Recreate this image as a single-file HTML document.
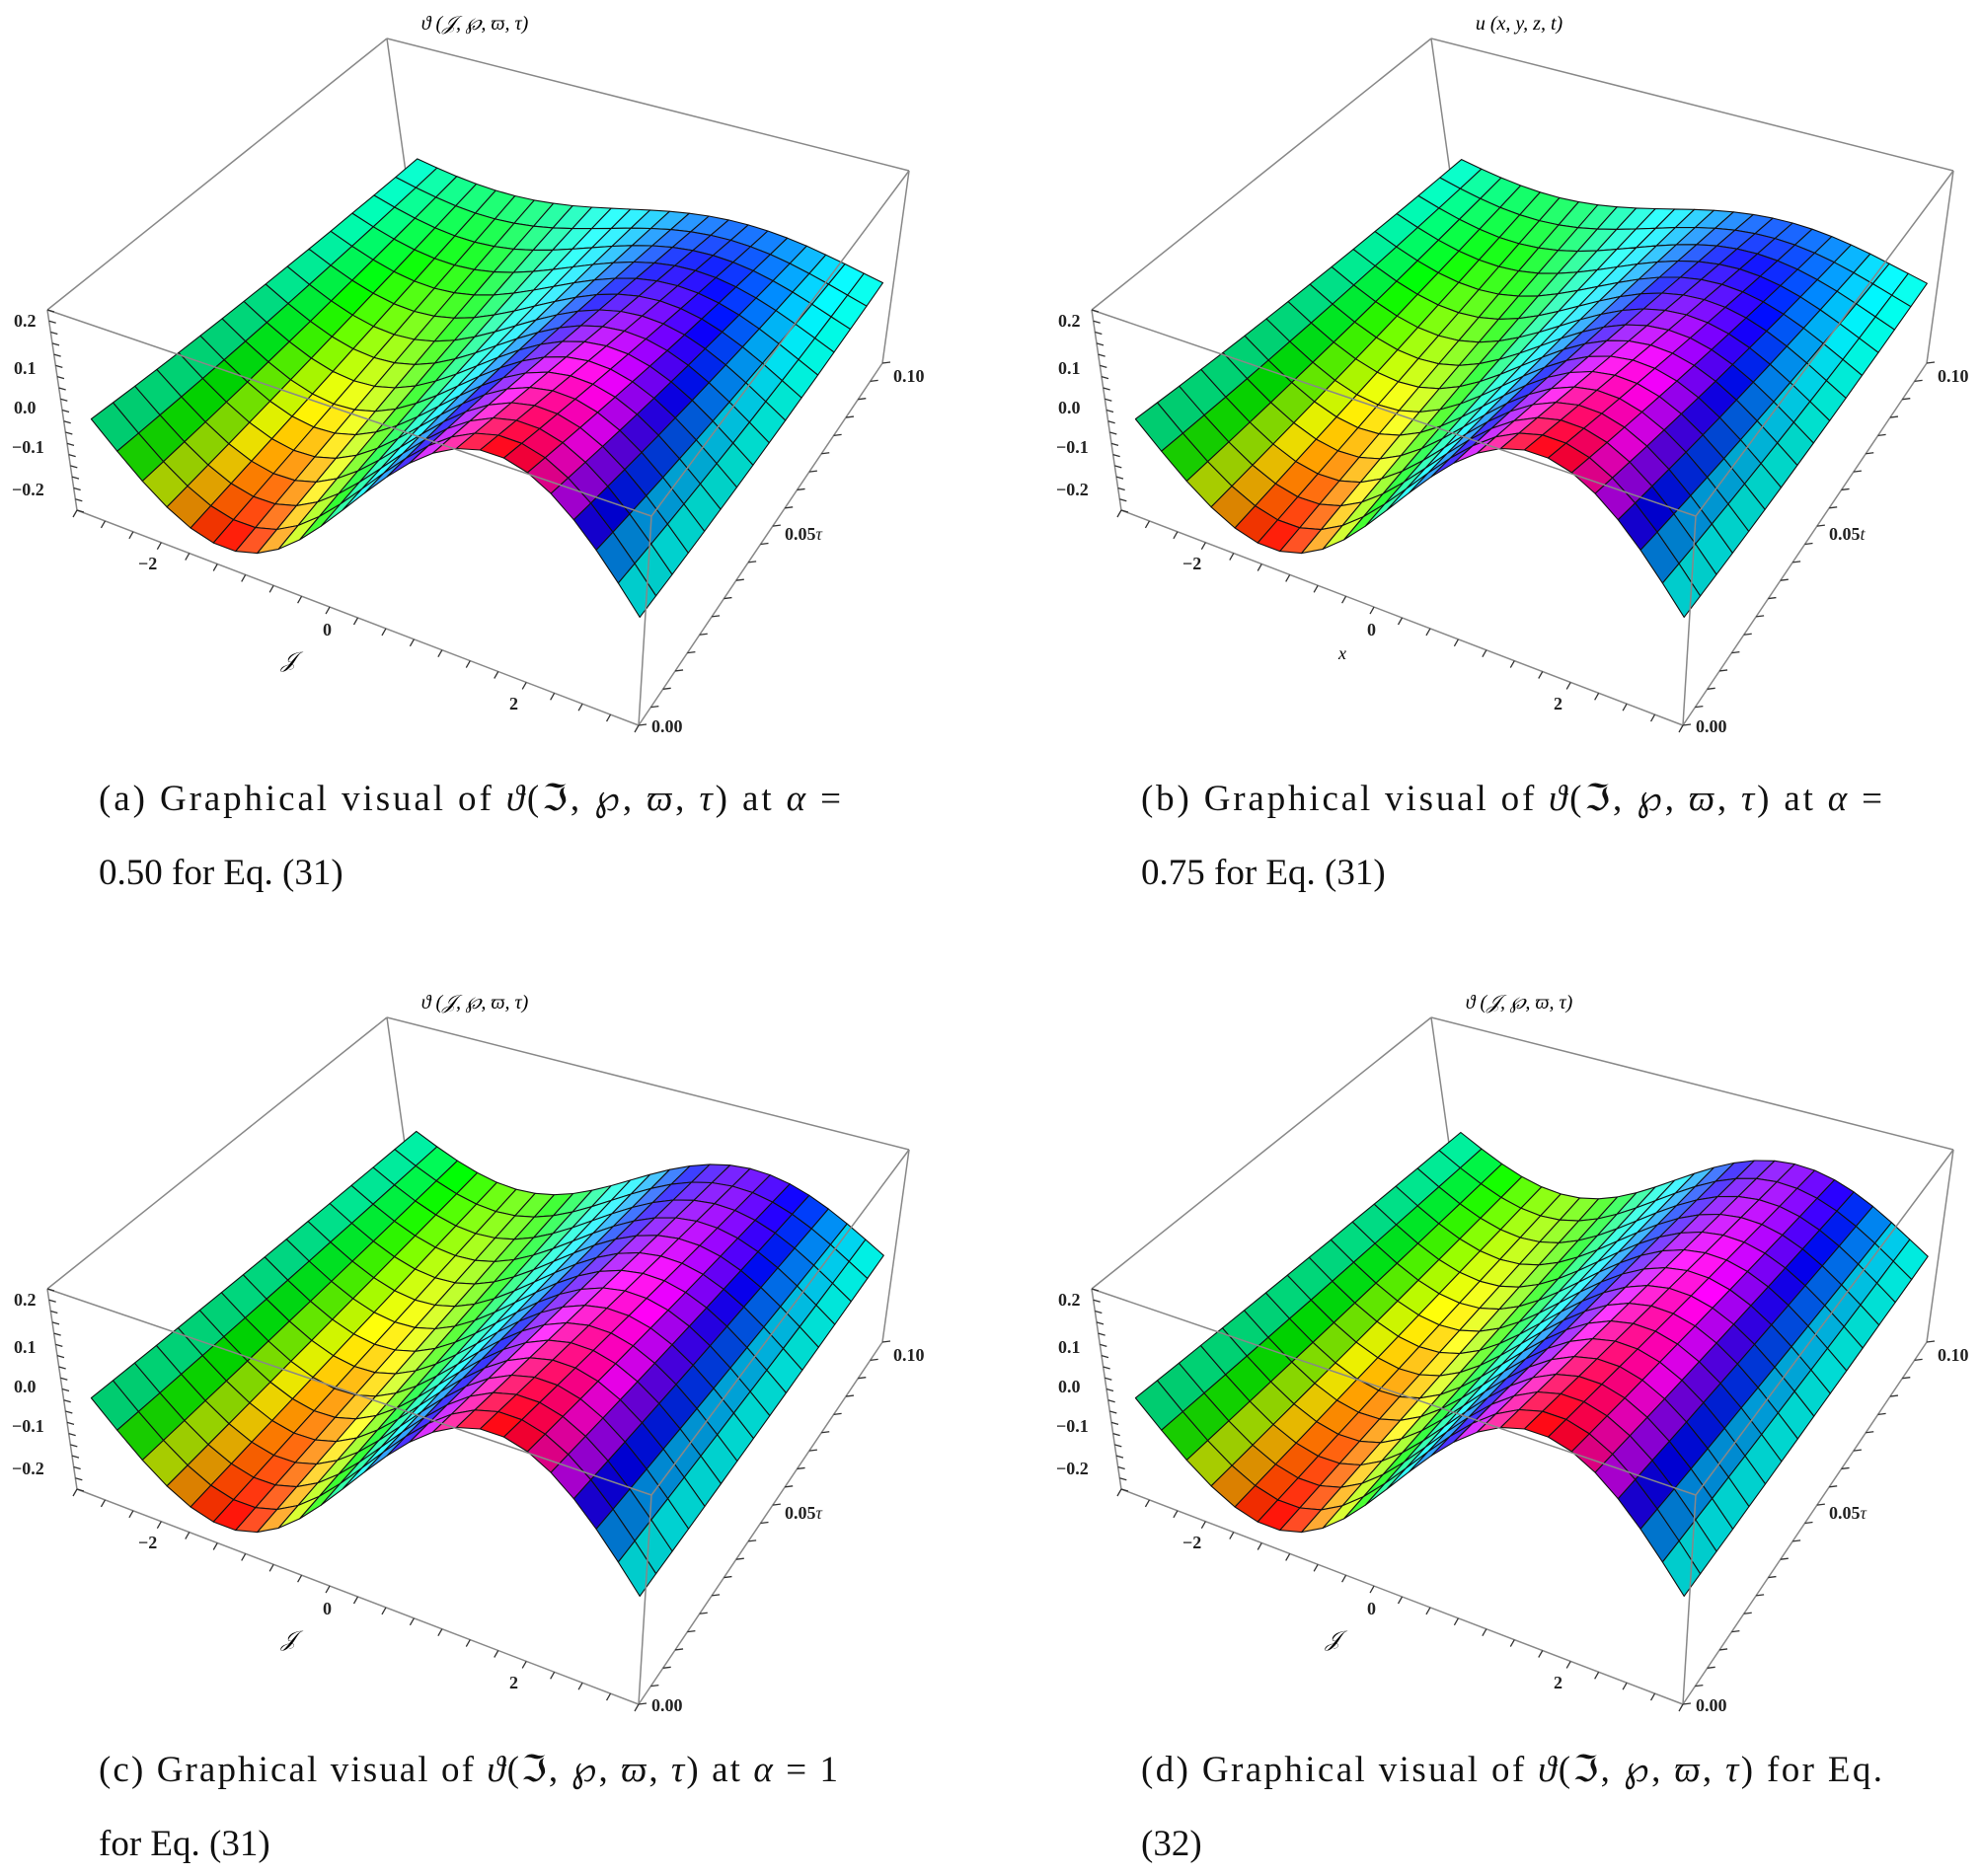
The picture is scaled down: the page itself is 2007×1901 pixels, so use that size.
<!DOCTYPE html>
<html><head><meta charset="utf-8"><style>
html,body{margin:0;padding:0;background:#fff;}
svg{display:block;}
.t{font-family:"Liberation Serif","DejaVu Serif",serif;}
.tk{font-family:"Liberation Serif",serif;font-weight:bold;font-size:18px;fill:#222;}
.cap{font-family:"Liberation Serif","DejaVu Serif",serif;font-size:37px;fill:#111;}
</style></head><body>
<svg id="s" xmlns="http://www.w3.org/2000/svg" width="2007" height="1901" viewBox="0 0 2007 1901">
<rect width="2007" height="1901" fill="#fff"/>
<g id="p0" transform="translate(0,0)"></g>
<g id="p1" transform="translate(1058,0)"></g>
<g id="p2" transform="translate(0,992)"></g>
<g id="p3" transform="translate(1058,992)"></g>

<g class="tk">
<text x="14" y="331">0.2</text><text x="14" y="379">0.1</text><text x="14" y="419">0.0</text><text x="12" y="459">−0.1</text><text x="12" y="502">−0.2</text>
<text x="140" y="577">−2</text><text x="327" y="644">0</text><text x="516" y="719">2</text>
<text x="905" y="387">0.10</text><text x="795" y="547">0.05<tspan font-style="italic" font-weight="normal">τ</tspan></text><text x="660" y="742">0.00</text>
</g>
<text class="t" x="285" y="676" font-size="22" font-style="italic">𝒥</text>
<text class="t" x="481" y="30" font-size="20" font-style="italic" text-anchor="middle">ϑ (𝒥, ℘, ϖ, τ)</text>

<g class="tk" transform="translate(1058,0)">
<text x="14" y="331">0.2</text><text x="14" y="379">0.1</text><text x="14" y="419">0.0</text><text x="12" y="459">−0.1</text><text x="12" y="502">−0.2</text>
<text x="140" y="577">−2</text><text x="327" y="644">0</text><text x="516" y="719">2</text>
<text x="905" y="387">0.10</text><text x="795" y="547">0.05<tspan font-style="italic" font-weight="normal">t</tspan></text><text x="660" y="742">0.00</text>
</g>
<text class="t" x="1356" y="668" font-size="18" font-style="italic">x</text>
<text class="t" x="1539" y="30" font-size="20" font-style="italic" text-anchor="middle">u (x, y, z, t)</text>

<g class="tk" transform="translate(0,992)">
<text x="14" y="331">0.2</text><text x="14" y="379">0.1</text><text x="14" y="419">0.0</text><text x="12" y="459">−0.1</text><text x="12" y="502">−0.2</text>
<text x="140" y="577">−2</text><text x="327" y="644">0</text><text x="516" y="719">2</text>
<text x="905" y="387">0.10</text><text x="795" y="547">0.05<tspan font-style="italic" font-weight="normal">τ</tspan></text><text x="660" y="742">0.00</text>
</g>
<text class="t" x="285" y="1668" font-size="22" font-style="italic">𝒥</text>
<text class="t" x="481" y="1022" font-size="20" font-style="italic" text-anchor="middle">ϑ (𝒥, ℘, ϖ, τ)</text>

<g class="tk" transform="translate(1058,992)">
<text x="14" y="331">0.2</text><text x="14" y="379">0.1</text><text x="14" y="419">0.0</text><text x="12" y="459">−0.1</text><text x="12" y="502">−0.2</text>
<text x="140" y="577">−2</text><text x="327" y="644">0</text><text x="516" y="719">2</text>
<text x="905" y="387">0.10</text><text x="795" y="547">0.05<tspan font-style="italic" font-weight="normal">τ</tspan></text><text x="660" y="742">0.00</text>
</g>
<text class="t" x="1343" y="1668" font-size="22" font-style="italic">𝒥</text>
<text class="t" x="1539" y="1022" font-size="20" font-style="italic" text-anchor="middle">ϑ (𝒥, ℘, ϖ, τ)</text>

<text class="cap" x="100" y="821" textLength="752" lengthAdjust="spacing">(a) Graphical visual of <tspan font-style="italic">ϑ</tspan>(ℑ, ℘, <tspan font-style="italic">ϖ</tspan>, <tspan font-style="italic">τ</tspan>) at <tspan font-style="italic">α</tspan> =</text>
<text class="cap" x="100" y="896">0.50 for Eq. (31)</text>
<text class="cap" x="1156" y="821" textLength="751" lengthAdjust="spacing">(b) Graphical visual of <tspan font-style="italic">ϑ</tspan>(ℑ, ℘, <tspan font-style="italic">ϖ</tspan>, <tspan font-style="italic">τ</tspan>) at <tspan font-style="italic">α</tspan> =</text>
<text class="cap" x="1156" y="896">0.75 for Eq. (31)</text>
<text class="cap" x="100" y="1805" textLength="749" lengthAdjust="spacing">(c) Graphical visual of <tspan font-style="italic">ϑ</tspan>(ℑ, ℘, <tspan font-style="italic">ϖ</tspan>, <tspan font-style="italic">τ</tspan>) at <tspan font-style="italic">α</tspan> = 1</text>
<text class="cap" x="100" y="1880">for Eq. (31)</text>
<text class="cap" x="1156" y="1805" textLength="751" lengthAdjust="spacing">(d) Graphical visual of <tspan font-style="italic">ϑ</tspan>(ℑ, ℘, <tspan font-style="italic">ϖ</tspan>, <tspan font-style="italic">τ</tspan>) for Eq.</text>
<text class="cap" x="1156" y="1880">(32)</text>
</svg>
<script>
(function(){
var NS="http://www.w3.org/2000/svg";
var TBL=[392,39],TBR=[921,173],TFL=[48,314],TFR=[660,523];
var BBL=[420,238],BBR=[894,368],BFL=[78,517],BFR=[647,735];
function L(a,b,t){return [a[0]+(b[0]-a[0])*t,a[1]+(b[1]-a[1])*t];}
function bil(fl,fr,bl,br,u,v){return L(L(fl,fr,u),L(bl,br,u),v);}
function P(u,v,w){u=0.04+0.945*u;v=0.015+0.97*v;var t=bil(TFL,TFR,TBL,TBR,u,v),b=bil(BFL,BFR,BBL,BBR,u,v);return L(b,t,w);}
function line(g,a,b,c,w){var e=document.createElementNS(NS,"line");e.setAttribute("x1",a[0]);e.setAttribute("y1",a[1]);e.setAttribute("x2",b[0]);e.setAttribute("y2",b[1]);e.setAttribute("stroke",c||"#888");e.setAttribute("stroke-width",w||1.5);g.appendChild(e);}
function draw(id,decay,shift,off){
 var g=document.getElementById(id);
 line(g,TFL,TBL);line(g,TBL,TBR);line(g,TBL,BBL);line(g,TBR,BBR);
 var NX=24,NY=15,PI=Math.PI;
 function A(v){return 0.22*(1-decay*v);}
 function ph(u,v){return -PI+2*PI*u+1.7+shift*v;}
 function z(u,v){return -A(v)*Math.cos(ph(u,v))+off*v;}
 function W(zz){return (zz+0.25)/0.465;}
 for(var j=NY-1;j>=0;j--){
  for(var i=0;i<NX;i++){
   var u0=i/NX,u1=(i+1)/NX,v0=j/NY,v1=(j+1)/NY;
   var pts=[[u0,v0],[u1,v0],[u1,v1],[u0,v1]].map(function(q){return P(q[0],q[1],W(z(q[0],q[1])));});
   var um=(u0+u1)/2,vm=(v0+v1)/2;
   var k=Math.min(1,A(vm)/0.22);
   var c=Math.cos(ph(um,vm));
   var hue=0.5-0.5*k*(c<0?-1:1)*Math.pow(Math.abs(c),1.4);
   hue=((hue%1)+1)%1;
   var dz=(z(u1,vm)-z(u0,vm))/(u1-u0);
   var light=52+Math.max(-12,Math.min(8,dz*14))+4*vm;
   var p=document.createElementNS(NS,"polygon");
   p.setAttribute("points",pts.map(function(q){return q[0].toFixed(1)+","+q[1].toFixed(1);}).join(" "));
   p.setAttribute("fill","hsl("+(hue*360).toFixed(0)+",100%,"+light.toFixed(0)+"%)");
   p.setAttribute("stroke","#111");p.setAttribute("stroke-width","1.1");p.setAttribute("stroke-linejoin","round");
   g.appendChild(p);
  }
 }
 line(g,TFL,TFR);line(g,TFR,TBR);line(g,TFR,BFR);line(g,BFL,BFR);line(g,BFR,BBR);line(g,TFL,BFL);
 for(var k=0;k<=20;k++){var a=L(BFL,BFR,k/20);line(g,a,[a[0]-4,a[1]+7],"#333",1.3);}
 for(var k=0;k<=20;k++){var a=L(BFR,BBR,k/20);line(g,a,[a[0]+8,a[1]-1],"#333",1.3);}
 for(var k=0;k<=18;k++){var a=L(BFL,TFL,k/18);line(g,a,[a[0]+7,a[1]+2],"#333",1.3);}
}
draw("p0",0.82,0.2,-0.035);draw("p1",0.8,0.2,-0.035);draw("p2",0.55,0.1,-0.01);draw("p3",0.5,0.1,-0.01);
})();
</script>
</body></html>
